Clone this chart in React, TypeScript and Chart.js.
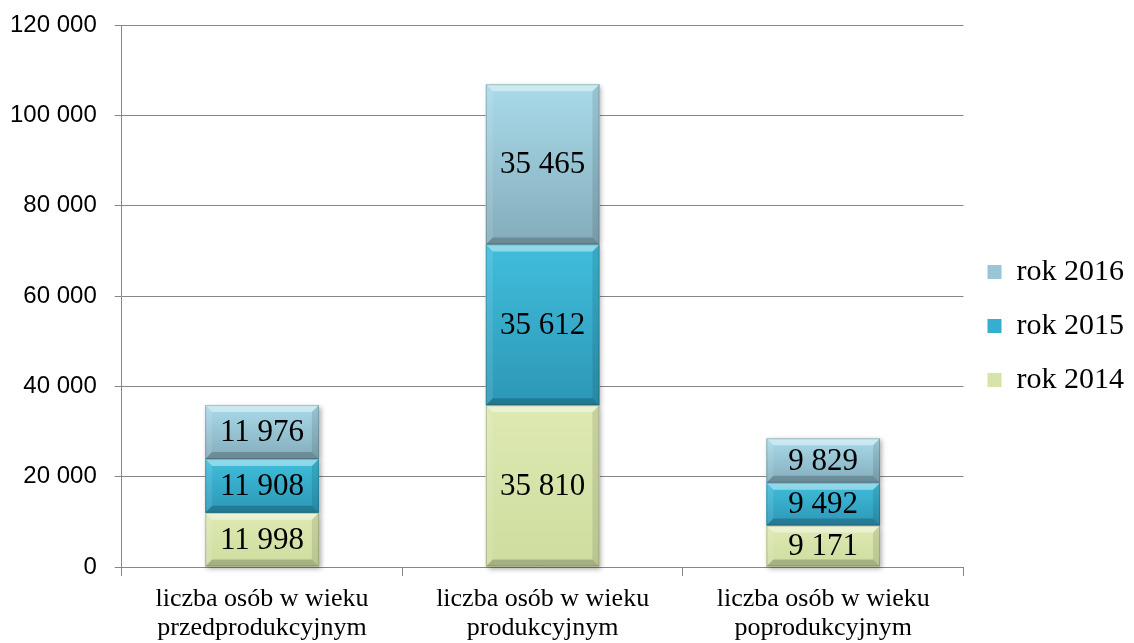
import React, { useEffect, useRef } from 'react';
import { Chart, registerables } from 'chart.js';

Chart.register(...registerables);

const categories: string[][] = [
  ['liczba osób w wieku', 'przedprodukcyjnym'],
  ['liczba osób w wieku', 'produkcyjnym'],
  ['liczba osób w wieku', 'poprodukcyjnym'],
];
const seriesNames = ['rok 2014', 'rok 2015', 'rok 2016'];
const values2014 = [11998, 35810, 9171];
const values2015 = [11908, 35612, 9492];
const values2016 = [11976, 35465, 9829];
const seriesColors = ['#D6E4A9', '#36AECF', '#98C6D6'];
const seriesTop = ['#DDE9B2', '#40BEDC', '#A9DBEA'];
const seriesBottom = ['#CEDD9F', '#2C97B6', '#84ACBB'];
const yMax = 120000;
const yStep = 20000;

const fmt = (v: number) => String(Math.round(v)).replace(/\B(?=(\d{3})+(?!\d))/g, ' ');

function poly(ctx: CanvasRenderingContext2D, pts: number[][], color: string) {
  ctx.beginPath();
  ctx.moveTo(pts[0][0], pts[0][1]);
  for (let i = 1; i < pts.length; i++) ctx.lineTo(pts[i][0], pts[i][1]);
  ctx.closePath();
  ctx.fillStyle = color;
  ctx.fill();
}

const bevelPlugin = {
  id: 'bevelBars',
  beforeDatasetsDraw(chart: any) {
    const ctx: CanvasRenderingContext2D = chart.ctx;
    ctx.save();
    chart.data.datasets.forEach((_ds: any, di: number) => {
      const meta = chart.getDatasetMeta(di);
      meta.data.forEach((el: any) => {
        const { x, y, base, width } = el.getProps(['x', 'y', 'base', 'width'], true);
        const l = x - width / 2;
        const t = Math.min(y, base);
        const b = Math.max(y, base);
        ctx.shadowColor = 'rgba(0,0,0,0.35)';
        ctx.shadowBlur = 5;
        ctx.shadowOffsetX = 2;
        ctx.shadowOffsetY = 2;
        ctx.fillStyle = '#ffffff';
        ctx.fillRect(l, t, width, b - t);
      });
    });
    ctx.restore();
  },
  afterDatasetsDraw(chart: any) {
    const ctx: CanvasRenderingContext2D = chart.ctx;
    chart.data.datasets.forEach((ds: any, di: number) => {
      const meta = chart.getDatasetMeta(di);
      meta.data.forEach((el: any, i: number) => {
        const { x, y, base, width } = el.getProps(['x', 'y', 'base', 'width'], true);
        const l = x - width / 2;
        const r = x + width / 2;
        const t = Math.min(y, base);
        const b = Math.max(y, base);
        const bv = 7;
        ctx.save();
        const g = ctx.createLinearGradient(0, t, 0, b);
        g.addColorStop(0, seriesTop[di]);
        g.addColorStop(1, seriesBottom[di]);
        ctx.fillStyle = g;
        ctx.fillRect(l, t, width, b - t);
        poly(ctx, [[l, t], [r, t], [r - bv, t + bv], [l + bv, t + bv]], 'rgba(255,255,255,0.42)');
        poly(ctx, [[l, t], [l + bv, t + bv], [l + bv, b - bv], [l, b]], 'rgba(255,255,255,0.10)');
        poly(ctx, [[r, t], [r, b], [r - bv, b - bv], [r - bv, t + bv]], 'rgba(0,0,0,0.10)');
        poly(ctx, [[l, b], [l + bv, b - bv], [r - bv, b - bv], [r, b]], 'rgba(0,0,0,0.20)');
        ctx.strokeStyle = 'rgba(0,0,0,0.18)';
        ctx.lineWidth = 1;
        ctx.strokeRect(l + 0.5, t + 0.5, width - 1, b - t - 1);
        ctx.fillStyle = '#000000';
        ctx.font = '31px "Liberation Serif", "Times New Roman", serif';
        ctx.textAlign = 'center';
        ctx.textBaseline = 'middle';
        ctx.fillText(fmt(ds.data[i]), x, (t + b) / 2 + 1);
        ctx.restore();
      });
    });
  },
};

export default function App() {
  const ref = useRef<HTMLCanvasElement>(null);
  useEffect(() => {
    document.body.style.margin = '0';
    const seriesValues = [values2014, values2015, values2016];
    const chart = new Chart(ref.current as HTMLCanvasElement, {
      type: 'bar',
      data: {
        labels: categories,
        datasets: seriesNames.map((name, i) => ({
          label: name,
          data: seriesValues[i],
          backgroundColor: seriesColors[i],
          borderWidth: 0,
          barPercentage: 0.405,
          categoryPercentage: 1,
        })),
      },
      options: {
        responsive: false,
        animation: false,
        layout: { padding: { top: 9, left: 10, right: 0, bottom: 0 } },
        plugins: {
          title: {
            display: true,
            text: '',
            fullSize: false,
            font: { size: 10 },
            padding: { top: 0, bottom: 4 },
          },
          legend: {
            position: 'right',
            reverse: true,
            align: 'center',
            labels: {
              boxWidth: 14,
              boxHeight: 14,
              padding: 24,
              color: '#000000',
              font: { family: '"Liberation Serif", "Times New Roman", serif', size: 30 },
            },
          },
          tooltip: { enabled: false },
        },
        scales: {
          x: {
            stacked: true,
            offset: true,
            grid: {
              offset: true,
              drawOnChartArea: false,
              drawTicks: true,
              tickLength: 18,
              tickBorderDash: [8, 200],
              color: '#868686',
            },
            border: { color: '#868686' },
            ticks: {
              color: '#000000',
              padding: 0,
              maxRotation: 0,
              font: { family: '"Liberation Serif", "Times New Roman", serif', size: 26, lineHeight: 1.115 },
            },
          },
          y: {
            stacked: true,
            min: 0,
            max: yMax,
            grid: { color: '#868686', tickLength: 25, tickBorderDash: [0, 18, 7, 200] },
            border: { color: '#868686' },
            ticks: {
              stepSize: yStep,
              color: '#000000',
              padding: 0,
              font: { family: '"Liberation Sans", Arial, sans-serif', size: 24 },
              callback: (v: any) => fmt(Number(v)),
            },
          },
        },
      },
      plugins: [bevelPlugin],
    } as any);
    return () => chart.destroy();
  }, []);
  return (
    <div style={{ width: 1134, height: 643 }}>
      <canvas ref={ref} width={1134} height={643} style={{ display: 'block' }} />
    </div>
  );
}
